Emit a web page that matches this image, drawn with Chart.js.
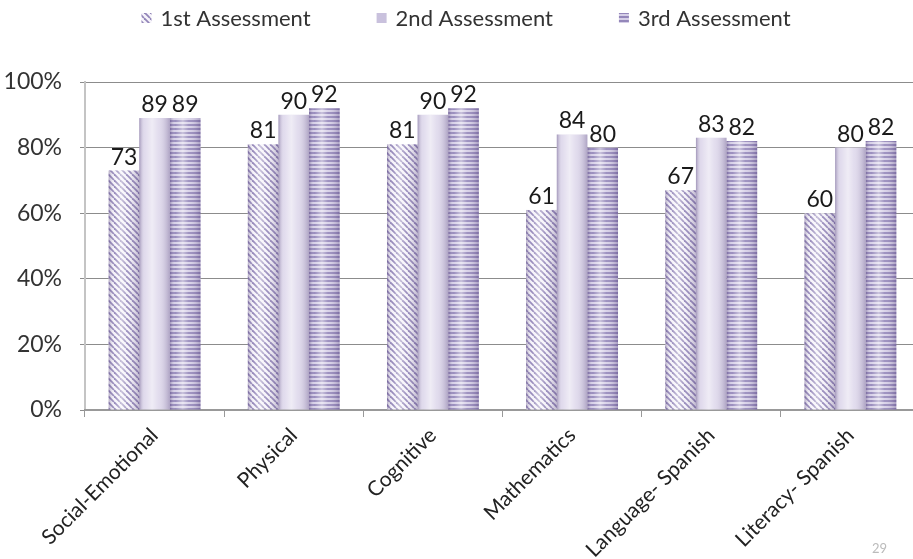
<!DOCTYPE html>
<html><head><meta charset="utf-8">
<script src="https://cdn.jsdelivr.net/npm/chart.js@4"></script>
<style>
html,body{margin:0;padding:0;background:#fff;overflow:hidden;}
#wrap{position:relative;width:913px;height:559px;overflow:hidden;}
#c{position:absolute;left:0;top:0;}
#pg{position:absolute;left:872px;top:540px;font:13px Lato,sans-serif;color:#bbb;}
</style></head>
<body><div id="wrap"><canvas id="c" width="925" height="559"></canvas><div id="pg">29</div></div>
<script>
const categories = ["Social-Emotional","Physical","Cognitive","Mathematics","Language- Spanish","Literacy- Spanish"];
const seriesNames = ["1st Assessment","2nd Assessment","3rd Assessment"];
const first = [73,81,81,61,67,60];
const second = [89,90,90,84,83,80];
const third = [89,92,92,80,82,82];
const yTicks = [0,20,40,60,80,100];

const FONT = "Lato, sans-serif";

function diagPattern(){
  const s=6, c=document.createElement('canvas'); c.width=s; c.height=s;
  const x=c.getContext('2d');
  x.fillStyle='#f6f4fa'; x.fillRect(0,0,s,s);
  x.strokeStyle='#9285b8'; x.lineWidth=1.8;
  for(let k=-1;k<=1;k++){ x.beginPath(); x.moveTo(k*s,0); x.lineTo(k*s+s,s); x.stroke(); }
  return x.createPattern(c,'repeat');
}
function horizPattern(){
  const c=document.createElement('canvas'); c.width=4; c.height=4;
  const x=c.getContext('2d');
  x.fillStyle='#d6cfe7'; x.fillRect(0,0,4,4);
  x.fillStyle='#9487ba'; x.fillRect(0,0,4,2);
  return x.createPattern(c,'repeat');
}
const fills = [diagPattern(), '#dfd9ec', horizPattern()];

// cylinder shading over each bar, using the bar elements' own geometry
const shading = {
  id:'shading',
  afterDatasetsDraw(chart){
    const ctx=chart.ctx; ctx.save();
    chart.data.datasets.forEach((ds,i)=>{
      chart.getDatasetMeta(i).data.forEach(bar=>{
        const w=bar.width, l=bar.x-w/2;
        const g=ctx.createLinearGradient(l,0,l+w,0);
        g.addColorStop(0,'rgba(70,50,110,0.40)');
        g.addColorStop(0.18,'rgba(255,255,255,0.05)');
        g.addColorStop(0.42,'rgba(255,255,255,0.5)');
        g.addColorStop(0.62,'rgba(255,255,255,0.1)');
        g.addColorStop(1,'rgba(70,50,110,0.32)');
        ctx.fillStyle=g; ctx.fillRect(l,bar.y,w,bar.base-bar.y);
      });
    });
    ctx.restore();
  }
};

const valueLabels = {
  id:'valueLabels',
  afterDatasetsDraw(chart){
    const ctx=chart.ctx; ctx.save();
    ctx.font='23px '+FONT; ctx.fillStyle='#1a1a1a'; ctx.textAlign='center'; ctx.textBaseline='alphabetic';
    chart.data.datasets.forEach((ds,i)=>{
      chart.getDatasetMeta(i).data.forEach((bar,j)=>{
        ctx.fillText(String(ds.data[j]), bar.x, bar.y-6);
      });
    });
    ctx.restore();
  }
};

const legendIcons = [fills[0], '#c9c1dd', fills[2]];
const customLegend = {
  id:'customLegend',
  afterDraw(chart){
    const ctx=chart.ctx; ctx.save();
    ctx.font='22px '+FONT; ctx.textBaseline='middle'; ctx.textAlign='left';
    const box=10, gapIcon=9, gapItem=66, cy=18;
    const widths=seriesNames.map(t=>box+gapIcon+ctx.measureText(t).width);
    const total=widths.reduce((a,b)=>a+b,0)+gapItem*(widths.length-1);
    let x=466-total/2;
    seriesNames.forEach((t,i)=>{
      ctx.fillStyle=legendIcons[i]; ctx.fillRect(x,cy-box/2,box,box);
      ctx.fillStyle='#333'; ctx.fillText(t,x+box+gapIcon,cy+1);
      x+=widths[i]+gapItem;
    });
    ctx.restore();
  }
};

new Chart(document.getElementById('c'),{
  type:'bar',
  data:{labels:categories,datasets:[
    {label:seriesNames[0],data:first,backgroundColor:fills[0],borderWidth:0},
    {label:seriesNames[1],data:second,backgroundColor:fills[1],borderWidth:0},
    {label:seriesNames[2],data:third,backgroundColor:fills[2],borderWidth:0}
  ]},
  options:{
    responsive:false,animation:false,
    layout:{padding:{left:2,right:5,top:82,bottom:0}},
    categoryPercentage:0.66,barPercentage:1.0,
    plugins:{legend:{display:false},tooltip:{enabled:false}},
    scales:{
      y:{min:0,max:100,afterBuildTicks(s){s.ticks=yTicks.map(v=>({value:v}));},
        afterFit(s){s.width=83;},
        ticks:{callback:v=>v+'%',color:'#333',font:{family:FONT,size:23},padding:18},
        grid:{color:'#8c8c8c',lineWidth:1,drawTicks:true,tickLength:5},
        border:{display:true,color:'#c4c4c4',width:2}},
      x:{afterFit(s){s.height=149;},
        ticks:{color:'#222',font:{family:FONT,size:21},minRotation:45,maxRotation:45,padding:6,autoSkip:false},
        grid:{display:true,drawOnChartArea:false,offset:true,tickLength:7,color:'#999'},
        border:{display:true,color:'#999',width:2}}
    }
  },
  plugins:[shading,valueLabels,customLegend]
});
</script></body></html>
